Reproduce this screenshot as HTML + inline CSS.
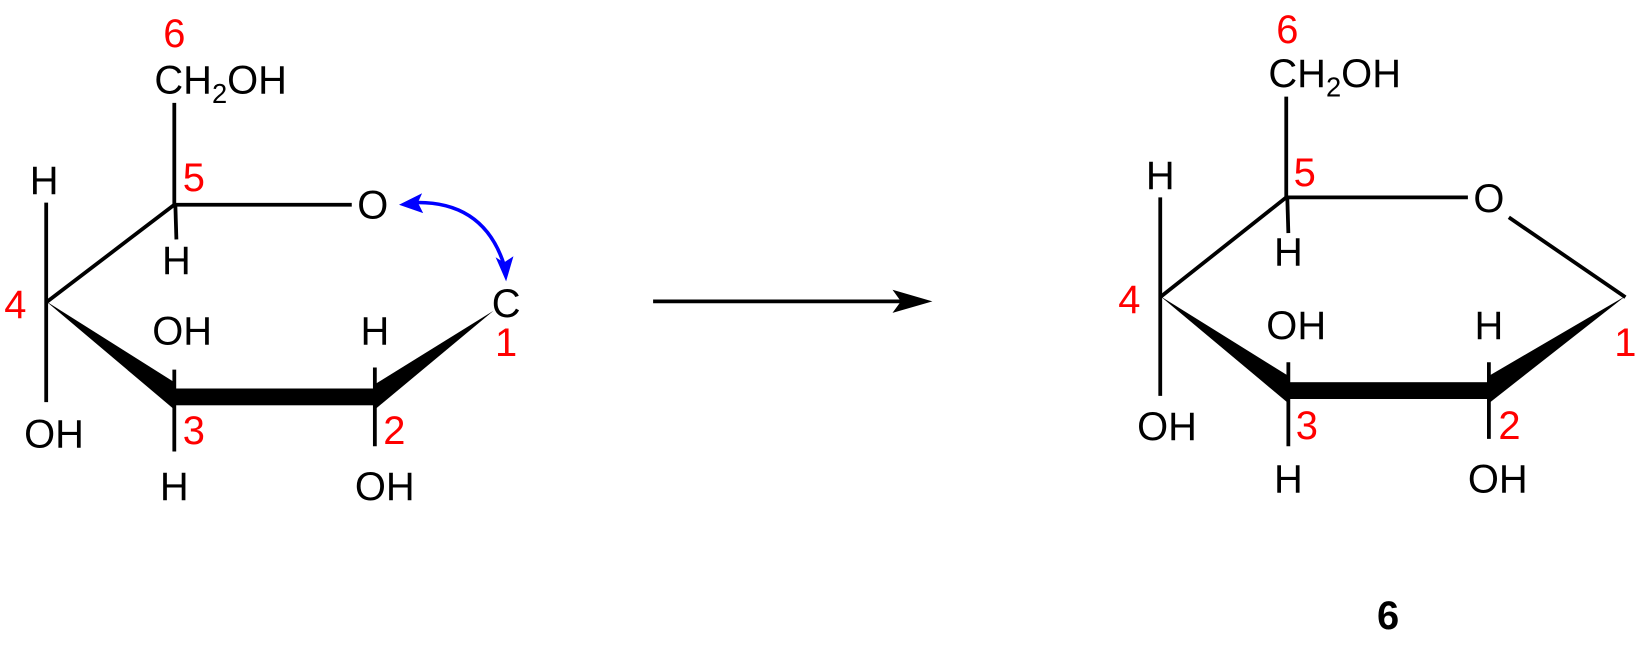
<!DOCTYPE html>
<html><head><meta charset="utf-8"><style>
html,body{margin:0;padding:0;background:#fff;}
svg{display:block;}
text{font-family:"Liberation Sans",Arial,sans-serif;font-size:38px;}
.r{fill:#f00;}
</style></head><body>
<svg width="1649" height="646" viewBox="0 0 1649 646" xmlns="http://www.w3.org/2000/svg">
<g transform="scale(1.05)">
<g stroke="#000" stroke-width="3.6" fill="none">
<line x1="166" y1="98" x2="166" y2="195"/>
<line x1="167" y1="195" x2="168" y2="228"/>
<line x1="44" y1="193" x2="44" y2="383"/>
<line x1="44" y1="288" x2="166" y2="195"/>
<line x1="166" y1="195" x2="335" y2="195"/>
<line x1="166" y1="352" x2="166" y2="430"/>
<line x1="357" y1="350" x2="357" y2="425"/>
<line x1="1225" y1="92" x2="1225" y2="188"/>
<line x1="1226" y1="188" x2="1227" y2="222"/>
<line x1="1105" y1="188" x2="1105" y2="377"/>
<line x1="1105" y1="283" x2="1225" y2="188"/>
<line x1="1225" y1="188" x2="1398" y2="188"/>
<line x1="1437" y1="207" x2="1548" y2="283"/>
<line x1="1227" y1="345" x2="1227" y2="425"/>
<line x1="1418" y1="345" x2="1418" y2="418"/>
<line x1="622" y1="287" x2="872" y2="287"/>
</g>
<polygon points="888,287 850,276 858,287 850,298" fill="#000"/>
<polygon points="44,287 166,364 166,390" fill="#000"/>
<rect x="164" y="370" width="195" height="16" fill="#000"/>
<polygon points="470,296 357,366 357,390" fill="#000"/>
<polygon points="1105,282 1227,358 1227,384" fill="#000"/>
<rect x="1225" y="364" width="195" height="16" fill="#000"/>
<polygon points="1548,282 1418,358 1418,384" fill="#000"/>
<path d="M392,193 Q460,190 480,252" stroke="#00f" stroke-width="3.4" fill="none"/>
<polygon points="380,195 402,184 398,193 403,203" fill="#00f"/>
<polygon points="482,268 472,245 480,250 489,244" fill="#00f"/>
<text class="r" x="166" y="45" text-anchor="middle">6</text>
<text x="147" y="89">CH<tspan font-size="26" dy="9">2</tspan><tspan dy="-9">OH</tspan></text>
<text class="r" x="174" y="182">5</text>
<text x="168" y="261" text-anchor="middle">H</text>
<text x="42" y="185" text-anchor="middle">H</text>
<text class="r" x="4" y="303">4</text>
<text x="23" y="426">OH</text>
<text x="355" y="208" text-anchor="middle">O</text>
<text x="482" y="302" text-anchor="middle">C</text>
<text class="r" x="482" y="339" text-anchor="middle">1</text>
<text x="145" y="328">OH</text>
<text x="357" y="328" text-anchor="middle">H</text>
<text class="r" x="174" y="423">3</text>
<text x="166" y="476" text-anchor="middle">H</text>
<text class="r" x="365" y="423">2</text>
<text x="338" y="476">OH</text>
<text class="r" x="1226" y="41" text-anchor="middle">6</text>
<text x="1208" y="83">CH<tspan font-size="26" dy="9">2</tspan><tspan dy="-9">OH</tspan></text>
<text class="r" x="1232" y="177">5</text>
<text x="1227" y="253" text-anchor="middle">H</text>
<text x="1105" y="180" text-anchor="middle">H</text>
<text class="r" x="1065" y="298">4</text>
<text x="1083" y="419">OH</text>
<text x="1418" y="202" text-anchor="middle">O</text>
<text class="r" x="1548" y="339" text-anchor="middle">1</text>
<text x="1206" y="323">OH</text>
<text x="1418" y="323" text-anchor="middle">H</text>
<text class="r" x="1234" y="418">3</text>
<text x="1227" y="469" text-anchor="middle">H</text>
<text class="r" x="1427" y="418">2</text>
<text x="1398" y="469">OH</text>
<text x="1322" y="599" text-anchor="middle" font-weight="bold">6</text>
</g>
</svg>
</body></html>
